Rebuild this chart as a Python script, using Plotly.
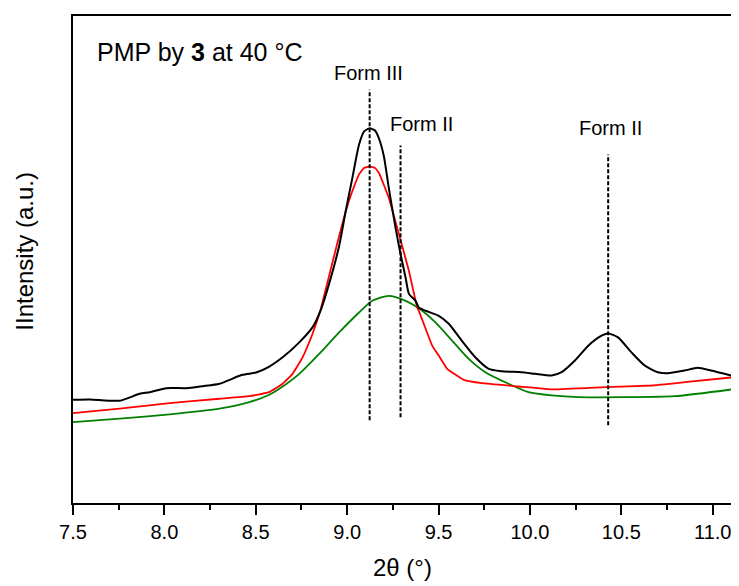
import plotly.graph_objects as go

# ---- data (2θ in degrees, intensity in arbitrary units) ----
black_x = [7.500, 7.593, 7.756, 7.865, 7.920, 8.011, 8.120, 8.209, 8.301, 8.427, 8.502, 8.574,
           8.647, 8.738, 8.810, 8.856, 8.901, 8.956, 8.992, 9.028, 9.065, 9.092, 9.123, 9.152,
           9.174, 9.201, 9.228, 9.265, 9.292, 9.320, 9.338, 9.374, 9.392, 9.429, 9.501, 9.556,
           9.627, 9.701, 9.774, 9.845, 9.954, 10.028, 10.119, 10.173, 10.246, 10.319, 10.392,
           10.428, 10.482, 10.555, 10.628, 10.700, 10.754, 10.846, 10.918, 10.991, 11.100]
black_y = [103.7, 104.0, 102.7, 109.7, 111.3, 115.3, 115.3, 117.3, 119.7, 128.7, 131.0, 137.0,
           146.3, 161.3, 176.3, 194.0, 220.0, 258.0, 293.0, 326.0, 360.0, 373.0, 376.3, 374.0,
           366.0, 348.0, 316.0, 276.0, 250.0, 226.0, 210.0, 203.0, 196.3, 193.0, 188.0, 180.0,
           163.0, 146.3, 134.7, 132.3, 131.3, 129.7, 128.0, 131.3, 143.0, 158.0, 168.0,
           170.3, 166.3, 151.3, 138.0, 131.3, 130.3, 133.0, 135.7, 133.0, 128.0]

red_x = [7.500, 7.756, 8.029, 8.302, 8.465, 8.574, 8.647, 8.701, 8.756, 8.810, 8.856, 8.901,
         8.945, 8.992, 9.028, 9.065, 9.092, 9.123, 9.152, 9.174, 9.228, 9.283, 9.338, 9.383,
         9.392, 9.465, 9.501, 9.547, 9.638, 9.738, 9.939, 10.130, 10.412, 10.666, 10.848, 11.100]
red_y = [90.3, 94.7, 100.3, 104.7, 107.3, 111.3, 119.7, 129.7, 146.3, 169.7, 195.0, 228.0,
         260.0, 293.0, 313.0, 330.0, 336.5, 338.0, 336.5, 331.3, 306.3, 270.0, 233.0, 196.3,
         193.0, 158.0, 148.0, 134.7, 123.7, 120.3, 117.0, 114.0, 116.3, 118.0, 121.3, 126.0]

green_x = [7.500, 7.756, 8.029, 8.302, 8.465, 8.574, 8.629, 8.738, 8.847, 8.956, 9.065, 9.137,
           9.228, 9.320, 9.392, 9.483, 9.574, 9.665, 9.756, 9.883, 9.992, 10.119, 10.264,
           10.792, 11.100]
green_y = [81.3, 84.7, 89.0, 94.7, 101.3, 108.7, 114.7, 129.7, 149.7, 171.3, 191.3, 203.0,
           208.0, 203.0, 195.5, 181.3, 163.0, 144.7, 131.3, 119.7, 111.3, 108.0, 106.3,
           107.3, 114.0]

# reference peak positions (dashed markers)
peak_labels = ["Form III", "Form II", "Form II"]
peak_pos = [9.123, 9.292, 10.428]
peak_top = [415, 359, 350]
peak_bottom = [83, 86, 78]
label_x = [9.117, 9.406, 10.442]
label_y = [432, 381, 377]

x_ticks = [7.5, 8.0, 8.5, 9.0, 9.5, 10.0, 10.5, 11.0]
x_ticklabels = ["7.5", "8.0", "8.5", "9.0", "9.5", "10.0", "10.5", "11.0"]

FONT = "Arial, Liberation Sans, sans-serif"

fig = go.Figure()
fig.add_trace(go.Scatter(x=green_x, y=green_y, mode="lines",
                         line=dict(color="#008000", width=1.8, shape="spline", smoothing=0.6)))
fig.add_trace(go.Scatter(x=red_x, y=red_y, mode="lines",
                         line=dict(color="#ff0000", width=1.8, shape="spline", smoothing=0.3)))
fig.add_trace(go.Scatter(x=black_x, y=black_y, mode="lines",
                         line=dict(color="#000000", width=2, shape="spline", smoothing=0.6)))

for p, t, b in zip(peak_pos, peak_top, peak_bottom):
    fig.add_trace(go.Scatter(x=[p, p], y=[b, t], mode="lines",
                             line=dict(color="black", width=2, dash="4px,2px")))

annotations = []
for txt, lx, ly in zip(peak_labels, label_x, label_y):
    annotations.append(dict(x=lx, y=ly, xref="x", yref="y", text=txt, showarrow=False,
                            font=dict(family=FONT, size=20, color="black"),
                            xanchor="center", yanchor="middle"))
annotations.append(dict(x=0.034, y=0.926, xref="paper", yref="paper",
                        text="PMP by <b>3</b> at 40 °C", showarrow=False,
                        font=dict(family=FONT, size=25, color="black"),
                        xanchor="left", yanchor="middle"))
annotations.append(dict(x=-0.073, y=0.518, xref="paper", yref="paper",
                        text="IIntensity (a.u.)", showarrow=False, textangle=-90,
                        font=dict(family=FONT, size=24, color="black"),
                        xanchor="center", yanchor="middle"))
annotations.append(dict(x=0.5, y=-0.133, xref="paper", yref="paper",
                        text="2θ (°)", showarrow=False,
                        font=dict(family=FONT, size=24, color="black"),
                        xanchor="center", yanchor="middle"))

# the page adds an 8px body margin, so the figure is sized/margined to compensate
fig.update_layout(
    width=731, height=578,
    margin=dict(l=65, r=6, t=6, b=83),
    paper_bgcolor="white", plot_bgcolor="white",
    showlegend=False,
    annotations=annotations,
    xaxis=dict(range=[7.5, 11.1], tickvals=x_ticks, ticktext=x_ticklabels,
               ticks="outside", ticklen=10, tickwidth=1.8, tickcolor="black",
               minor=dict(dtick=0.25, tick0=7.5, ticks="outside", ticklen=5,
                          tickwidth=1.8, tickcolor="black", showgrid=False),
               showline=True, linecolor="black", linewidth=1.8, mirror=True,
               showgrid=False, zeroline=False,
               tickfont=dict(family=FONT, size=20, color="black")),
    yaxis=dict(range=[0, 489], showticklabels=False, ticks="",
               showline=True, linecolor="black", linewidth=1.8, mirror=True,
               showgrid=False, zeroline=False),
)

fig.write_html("out.html")
